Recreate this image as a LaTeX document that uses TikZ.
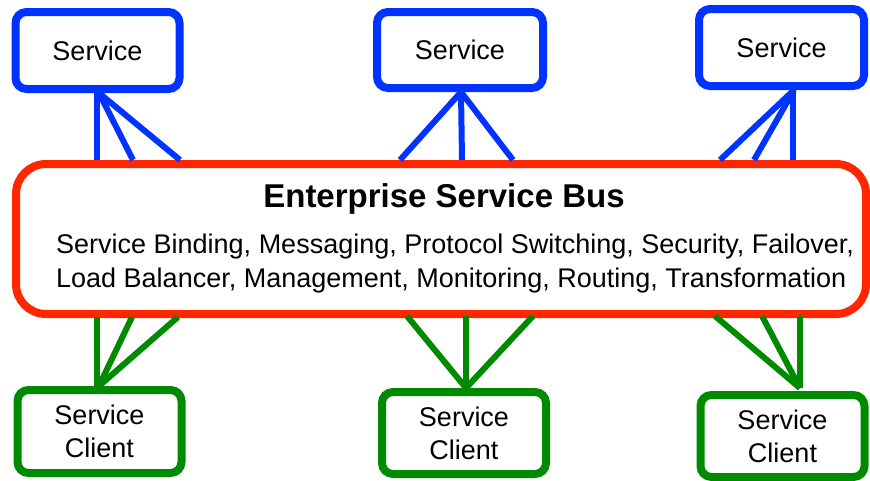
\documentclass[tikz,border=0pt]{standalone}
\usepackage{fontspec}
\setmainfont{Liberation Sans}
\definecolor{cB}{rgb}{0,0.2,1}
\definecolor{cR}{rgb}{1,0.15,0}
\definecolor{cG}{rgb}{0,0.54,0}
\tikzset{mysrv/.style={
  shape=rectangle,
  draw=cB,
  fill=white,
  line width=8pt,
  rounded corners=11pt,
  minimum width=164pt,
  minimum height=77pt,
  inner sep=0pt,
  font=\fontsize{27}{33}\selectfont,
  align=center,
  }
}
\tikzset{mycli/.style={
  mysrv,
  draw=cG,
  minimum height=82pt,
  }
}
\tikzset{mybus/.style={
  shape=rectangle,
  draw=cR,
  fill=white,
  line width=8pt,
  rounded corners=30pt,
  minimum width=850pt,
  minimum height=150pt,
  }
}
\tikzset{mybustext/.style={
  font=\fontsize{27}{33}\selectfont,
  anchor=base west,
  inner sep=0pt,
  }
}
\tikzset{mywireB/.style={draw=cB, line width=6pt}}
\tikzset{mywireG/.style={draw=cG, line width=6pt}}

\begin{document}
\begin{tikzpicture}[x=1pt, y=-1pt]
  \useasboundingbox (0,0) rectangle (870,480);

  \node [mybus] (esb) at (441,239) { };
  \node [font=\fontsize{33}{33}\selectfont\bfseries, anchor=base, inner sep=0pt] (esbtitle) at (444,207)
    {Enterprise Service Bus};
  \node [mybustext] (esbline1) at (56,253)
    {Service Binding, Messaging, Protocol Switching, Security, Failover,};
  \node [mybustext] (esbline2) at (56,287)
    {Load Balancer, Management, Monitoring, Routing, Transformation};

  \node [mysrv] (srv1) at (97.5,50.5) {Service};
  \node [mysrv, minimum width=166pt, minimum height=76pt] (srv2) at (460,50) {Service};
  \node [mysrv, minimum width=165pt] (srv3) at (781.5,47.5) {Service};

  \node [mycli, minimum height=83pt] (cli1) at (99.5,431.5) {Service\\Client};
  \node [mycli] (cli2) at (464,433) {Service\\Client};
  \node [mycli] (cli3) at (782.5,436) {Service\\Client};

  % meeting points under the services and above the clients
  \coordinate (s1) at (99,93);
  \coordinate (s2) at (461,92);
  \coordinate (s3) at (794,90);
  \coordinate (c1) at (99,386);
  \coordinate (c2) at (466,388);
  \coordinate (c3) at (800,388);

  % ends on the bus
  \coordinate (s1a) at (97,160);  \coordinate (s1b) at (133,160); \coordinate (s1c) at (180,160);
  \coordinate (s2a) at (400,160); \coordinate (s2b) at (462,160); \coordinate (s2c) at (513,160);
  \coordinate (s3a) at (720,160); \coordinate (s3b) at (754,160); \coordinate (s3c) at (793,160);
  \coordinate (c1a) at (97,317);  \coordinate (c1b) at (132,317); \coordinate (c1c) at (178,317);
  \coordinate (c2a) at (407,316); \coordinate (c2b) at (466,316); \coordinate (c2c) at (533,316);
  \coordinate (c3a) at (715,316); \coordinate (c3b) at (762,316); \coordinate (c3c) at (800,316);

  \draw [mywireB] (s1a) -- (97,93);
  \draw [mywireB] (s1) -- (s1b);
  \draw [mywireB] (s1) -- (s1c);
  \draw [mywireB] (s2) -- (s2a);
  \draw [mywireB] (s2) -- (s2b);
  \draw [mywireB] (s2) -- (s2c);
  \draw [mywireB] (s3) -- (s3a);
  \draw [mywireB] (s3) -- (s3b);
  \draw [mywireB] (s3c) -- (793,90);

  \draw [mywireG] (c1a) -- (97,386);
  \draw [mywireG] (c1) -- (c1b);
  \draw [mywireG] (c1) -- (c1c);
  \draw [mywireG] (c2) -- (c2a);
  \draw [mywireG] (c2) -- (c2b);
  \draw [mywireG] (c2) -- (c2c);
  \draw [mywireG] (c3) -- (c3a);
  \draw [mywireG] (c3) -- (c3b);
  \draw [mywireG] (c3) -- (c3c);
\end{tikzpicture}
\end{document}
